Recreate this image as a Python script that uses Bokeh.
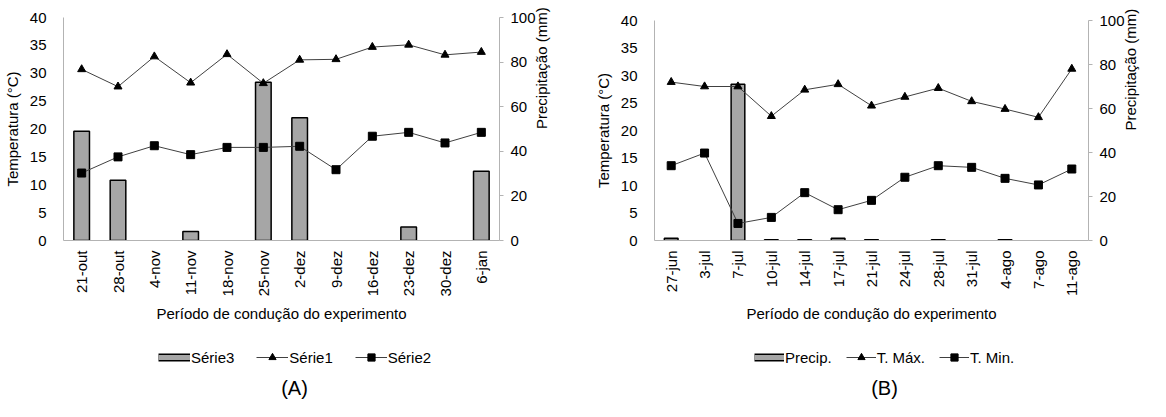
import math
from bokeh.plotting import figure
from bokeh.models import (Range1d, LinearAxis, Legend, LegendItem, Label,
                          ColumnDataSource, SingleIntervalTicker, CDSView, BooleanFilter)
from bokeh.layouts import row, column
from bokeh.embed import file_html
from bokeh.resources import INLINE

# ---------------- data ----------------
cats_a = ["21-out", "28-out", "4-nov", "11-nov", "18-nov", "25-nov", "2-dez",
          "9-dez", "16-dez", "23-dez", "30-dez", "6-jan"]
serie1_a = [30.7, 27.6, 33.0, 28.3, 33.4, 28.2, 32.4, 32.5, 34.7, 35.1, 33.3, 33.8]
serie2_a = [12.1, 15.0, 17.0, 15.4, 16.7, 16.7, 16.9, 12.7, 18.7, 19.4, 17.5, 19.4]
serie3_a = [49, 27, 0, 4, 0, 71, 55, 0, 0, 6, 0, 31]
labels_a = ["Série3", "Série1", "Série2"]

cats_b = ["27-jun", "3-jul", "7-jul", "10-jul", "14-jul", "17-jul", "21-jul",
          "24-jul", "28-jul", "31-jul", "4-ago", "7-ago", "11-ago"]
tmax_b = [28.8, 28.0, 28.0, 22.6, 27.4, 28.4, 24.5, 26.1, 27.7, 25.3, 23.9, 22.4, 31.2]
tmin_b = [13.6, 15.9, 3.1, 4.2, 8.7, 5.6, 7.3, 11.5, 13.6, 13.3, 11.3, 10.1, 13.0]
precip_b = [1.0, 0, 71, 0.3, 0.3, 1.0, 0.3, 0, 0.3, 0, 0.3, 0, 0]
labels_b = ["Precip.", "T. Máx.", "T. Min."]

FONT = "Liberation Sans"
AXIS_GRAY = "#b3b3b3"
LINE_GRAY = "#404040"
BAR_GRAY = "#a6a6a6"
NAN = float("nan")


def panel(cats, tmax, tmin, precip, labels, letter, border_l, border_r, border_t,
          bar_w, legend_x, legend_spacing, glyph_w, letter_x):
    p = figure(x_range=cats, y_range=Range1d(0, 40), width=575, height=330,
               output_backend="svg", toolbar_location=None,
               min_border_left=border_l, min_border_right=border_r,
               min_border_top=border_t, min_border_bottom=90)
    p.outline_line_color = None
    p.xgrid.grid_line_color = None
    p.ygrid.grid_line_color = None
    p.extra_y_ranges = {"precip": Range1d(0, 100)}

    src = ColumnDataSource(dict(x=cats, tmax=tmax, tmin=tmin, precip=precip))
    view = CDSView(filter=BooleanFilter([v > 0 for v in precip]))
    p.vbar(x="x", top="precip", width=bar_w, source=src, view=view,
           y_range_name="precip", fill_color=BAR_GRAY, line_color="black",
           line_width=1.5)
    p.line("x", "tmax", source=src, line_color=LINE_GRAY, line_width=1)
    p.scatter("x", "tmax", source=src, marker="triangle", size=8,
              fill_color="black", line_color="black")
    p.line("x", "tmin", source=src, line_color=LINE_GRAY, line_width=1)
    p.scatter("x", "tmin", source=src, marker="square", size=8,
              fill_color="black", line_color="black")

    # axes
    yl = p.yaxis[0]
    yl.ticker = SingleIntervalTicker(interval=5)
    yl.axis_label = "Temperatura (°C)"
    yr = LinearAxis(y_range_name="precip", ticker=SingleIntervalTicker(interval=20),
                    axis_label="Precipitação (mm)")
    p.add_layout(yr, "right")
    xa = p.xaxis[0]
    xa.axis_label = "Período de condução do experimento"
    xa.major_label_orientation = math.pi / 2

    for ax in (yl, yr, xa):
        ax.axis_line_color = AXIS_GRAY
        ax.major_label_text_font = FONT
        ax.major_label_text_font_size = "15px"
        ax.major_label_text_color = "black"
        ax.axis_label_text_font = FONT
        ax.axis_label_text_font_size = "15px"
        ax.axis_label_text_font_style = "normal"
        ax.axis_label_text_color = "black"
        ax.minor_tick_line_color = None
    yl.major_tick_line_color = None
    yl.major_tick_out = 0
    yl.major_tick_in = 0
    yl.major_label_standoff = 13
    yl.axis_label_standoff = 6
    xa.major_tick_line_color = None
    xa.major_tick_out = 0
    xa.major_tick_in = 0
    xa.major_label_standoff = 10
    xa.axis_label_standoff = 6
    yr.major_tick_line_color = AXIS_GRAY
    yr.major_tick_out = 4
    yr.major_tick_in = 0
    yr.major_label_standoff = 7
    yr.axis_label_standoff = 3
    yr.axis_label_orientation = math.pi / 2

    # legend strip below the chart (its frame lines up with the chart frame)
    lf = figure(width=575, height=71, x_range=Range1d(0, 1), y_range=Range1d(0, 1),
                x_axis_type=None, y_axis_type=None, output_backend="svg",
                toolbar_location=None, min_border_left=0, min_border_right=0,
                min_border_top=0, min_border_bottom=0)
    lf.outline_line_color = None
    lf.xgrid.grid_line_color = None
    lf.ygrid.grid_line_color = None
    sw = ColumnDataSource(dict(x=[0], y=[NAN]))
    b_out = lf.line("x", "y", source=sw, line_color="black", line_width=8, line_cap="butt")
    b_in = lf.line("x", "y", source=sw, line_color=BAR_GRAY, line_width=5, line_cap="butt")
    k1 = lf.line("x", "y", source=sw, line_color=LINE_GRAY, line_width=1)
    s1 = lf.scatter("x", "y", source=sw, marker="triangle", fill_color="black",
                    line_color="black")
    k2 = lf.line("x", "y", source=sw, line_color=LINE_GRAY, line_width=1)
    s2 = lf.scatter("x", "y", source=sw, marker="square", fill_color="black",
                    line_color="black")
    legend = Legend(items=[LegendItem(label=labels[0], renderers=[b_out, b_in]),
                           LegendItem(label=labels[1], renderers=[k1, s1]),
                           LegendItem(label=labels[2], renderers=[k2, s2])],
                    orientation="horizontal", location=(legend_x, 35),
                    glyph_width=glyph_w, glyph_height=18, label_standoff=1,
                    spacing=legend_spacing, padding=0, margin=0,
                    border_line_color=None, background_fill_alpha=0,
                    label_text_font=FONT, label_text_font_size="15px",
                    label_text_color="black")
    lf.add_layout(legend)
    lf.add_layout(Label(x=letter_x, y=14, x_units="screen", y_units="screen",
                        text=letter, text_font=FONT, text_font_size="20px",
                        text_color="black", text_baseline="middle", text_align="center"))
    return column(p, lf, spacing=0)


pa = panel(cats_a, serie1_a, serie2_a, serie3_a, labels_a, "(A)", 53, 76, 17,
           0.43, 95, 22, 32, 231)
pb = panel(cats_b, tmax_b, tmin_b, precip_b, labels_b, "(B)", 79, 51, 20,
           0.41, 100, 14, 30, 230)

layout = row(pa, pb, spacing=0)
open("out.html", "w").write(file_html(layout, INLINE))
